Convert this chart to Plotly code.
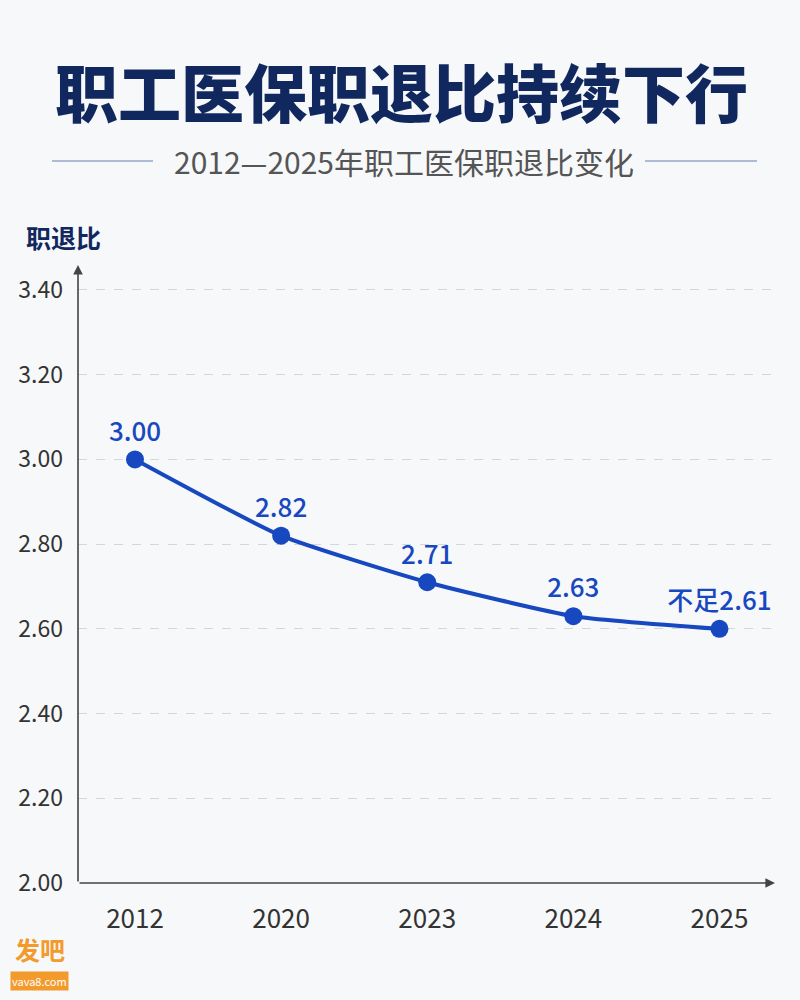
import plotly.graph_objects as go

# 职工医保职退比
years = ["2012", "2020", "2023", "2024", "2025"]
ratio = [3.00, 2.82, 2.71, 2.63, 2.60]
point_labels = ["3.00", "2.82", "2.71", "2.63", "不足2.61"]
y_ticks = [2.0, 2.2, 2.4, 2.6, 2.8, 3.0, 3.2, 3.4]

FONT = "Noto Sans CJK SC"
BLUE = "#1748bf"
NAVY = "#11285e"
BG = "#f7f8fa"

fig = go.Figure()
fig.add_trace(go.Scatter(
    x=list(range(len(years))), y=ratio,
    mode="lines+markers+text",
    line=dict(color=BLUE, width=4, shape="spline", smoothing=0.5),
    marker=dict(color=BLUE, size=18),
    text=point_labels, textposition="top center",
    textfont=dict(family=FONT, size=26, color=BLUE, weight=500),
    cliponaxis=False, hoverinfo="skip",
))

fig.update_layout(
    width=800, height=1000,
    paper_bgcolor=BG, plot_bgcolor=BG,
    margin=dict(l=78, r=25, t=265, b=117),
    showlegend=False,
    font=dict(family=FONT, color="#333333"),
    xaxis=dict(
        range=[-0.39, 4.38], tickvals=list(range(len(years))), ticktext=years,
        showgrid=False, zeroline=False, showline=False,
        tickfont=dict(family=FONT, size=26, color="#333333"), ticks="", ticklabelstandoff=18,
    ),
    yaxis=dict(
        range=[2.0, 3.459], tickvals=y_ticks,
        ticktext=[f"{v:.2f}" for v in y_ticks],
        showgrid=True, gridcolor="#d3d6db", griddash="dash", gridwidth=1,
        zeroline=False, showline=False,
        tickfont=dict(family=FONT, size=23, color="#333333"), ticks="", ticklabelstandoff=14,
    ),
)

# 坐标轴线与箭头
fig.add_annotation(xref="paper", yref="paper", x=1, y=0, ax=-697, ay=0,
                   axref="pixel", ayref="pixel", showarrow=True,
                   arrowhead=2, arrowsize=1.2, arrowwidth=1.6, arrowcolor="#444444", text="")
fig.add_annotation(xref="paper", yref="paper", x=0, y=1, ax=0, ay=618,
                   axref="pixel", ayref="pixel", showarrow=True,
                   arrowhead=2, arrowsize=1.2, arrowwidth=1.6, arrowcolor="#444444", text="")

# 标题
fig.add_annotation(xref="paper", yref="paper", x=0.5, y=1, yshift=176, xshift=-25,
                   text="职工医保职退比持续下行", showarrow=False,
                   font=dict(family=FONT, size=63, color=NAVY, weight=900),
                   xanchor="center", yanchor="middle")
fig.add_annotation(xref="paper", yref="paper", x=0.5, y=1, yshift=104, xshift=-23,
                   text="2012—2025年职工医保职退比变化", showarrow=False,
                   font=dict(family=FONT, size=30, color="#555555"), xanchor="center", yanchor="middle")
# 副标题两侧横线
for x0, x1 in [(52, 153), (645, 757)]:
    fig.add_shape(type="line", xref="paper", yref="paper",
                  x0=(x0 - 78) / 697, x1=(x1 - 78) / 697,
                  y0=1 + 104 / 618, y1=1 + 104 / 618,
                  line=dict(color="#aebbd6", width=2))

# 纵轴标题
fig.add_annotation(xref="paper", yref="paper", x=(24 - 78) / 697, y=1, yshift=28,
                   text="<b>职退比</b>", showarrow=False, xanchor="left", yanchor="middle",
                   font=dict(family=FONT, size=25, color=NAVY))

# 水印
fig.add_annotation(xref="paper", yref="paper", x=(13 - 78) / 697, y=0, yshift=-66,
                   text="<b>发吧</b>", showarrow=False, xanchor="left", yanchor="middle",
                   font=dict(family=FONT, size=25, color="#f39a2c"))
fig.add_annotation(xref="paper", yref="paper", x=(10 - 78) / 697, y=0, yshift=-98,
                   text="vava8.com", showarrow=False, xanchor="left", yanchor="middle",
                   font=dict(family=FONT, size=11, color="white"),
                   bgcolor="#f39a2c", borderpad=1)

fig.write_html("out.html", config={"displayModeBar": False},
               post_script="document.body.style.margin='0';document.body.style.background='#f7f8fa';")
